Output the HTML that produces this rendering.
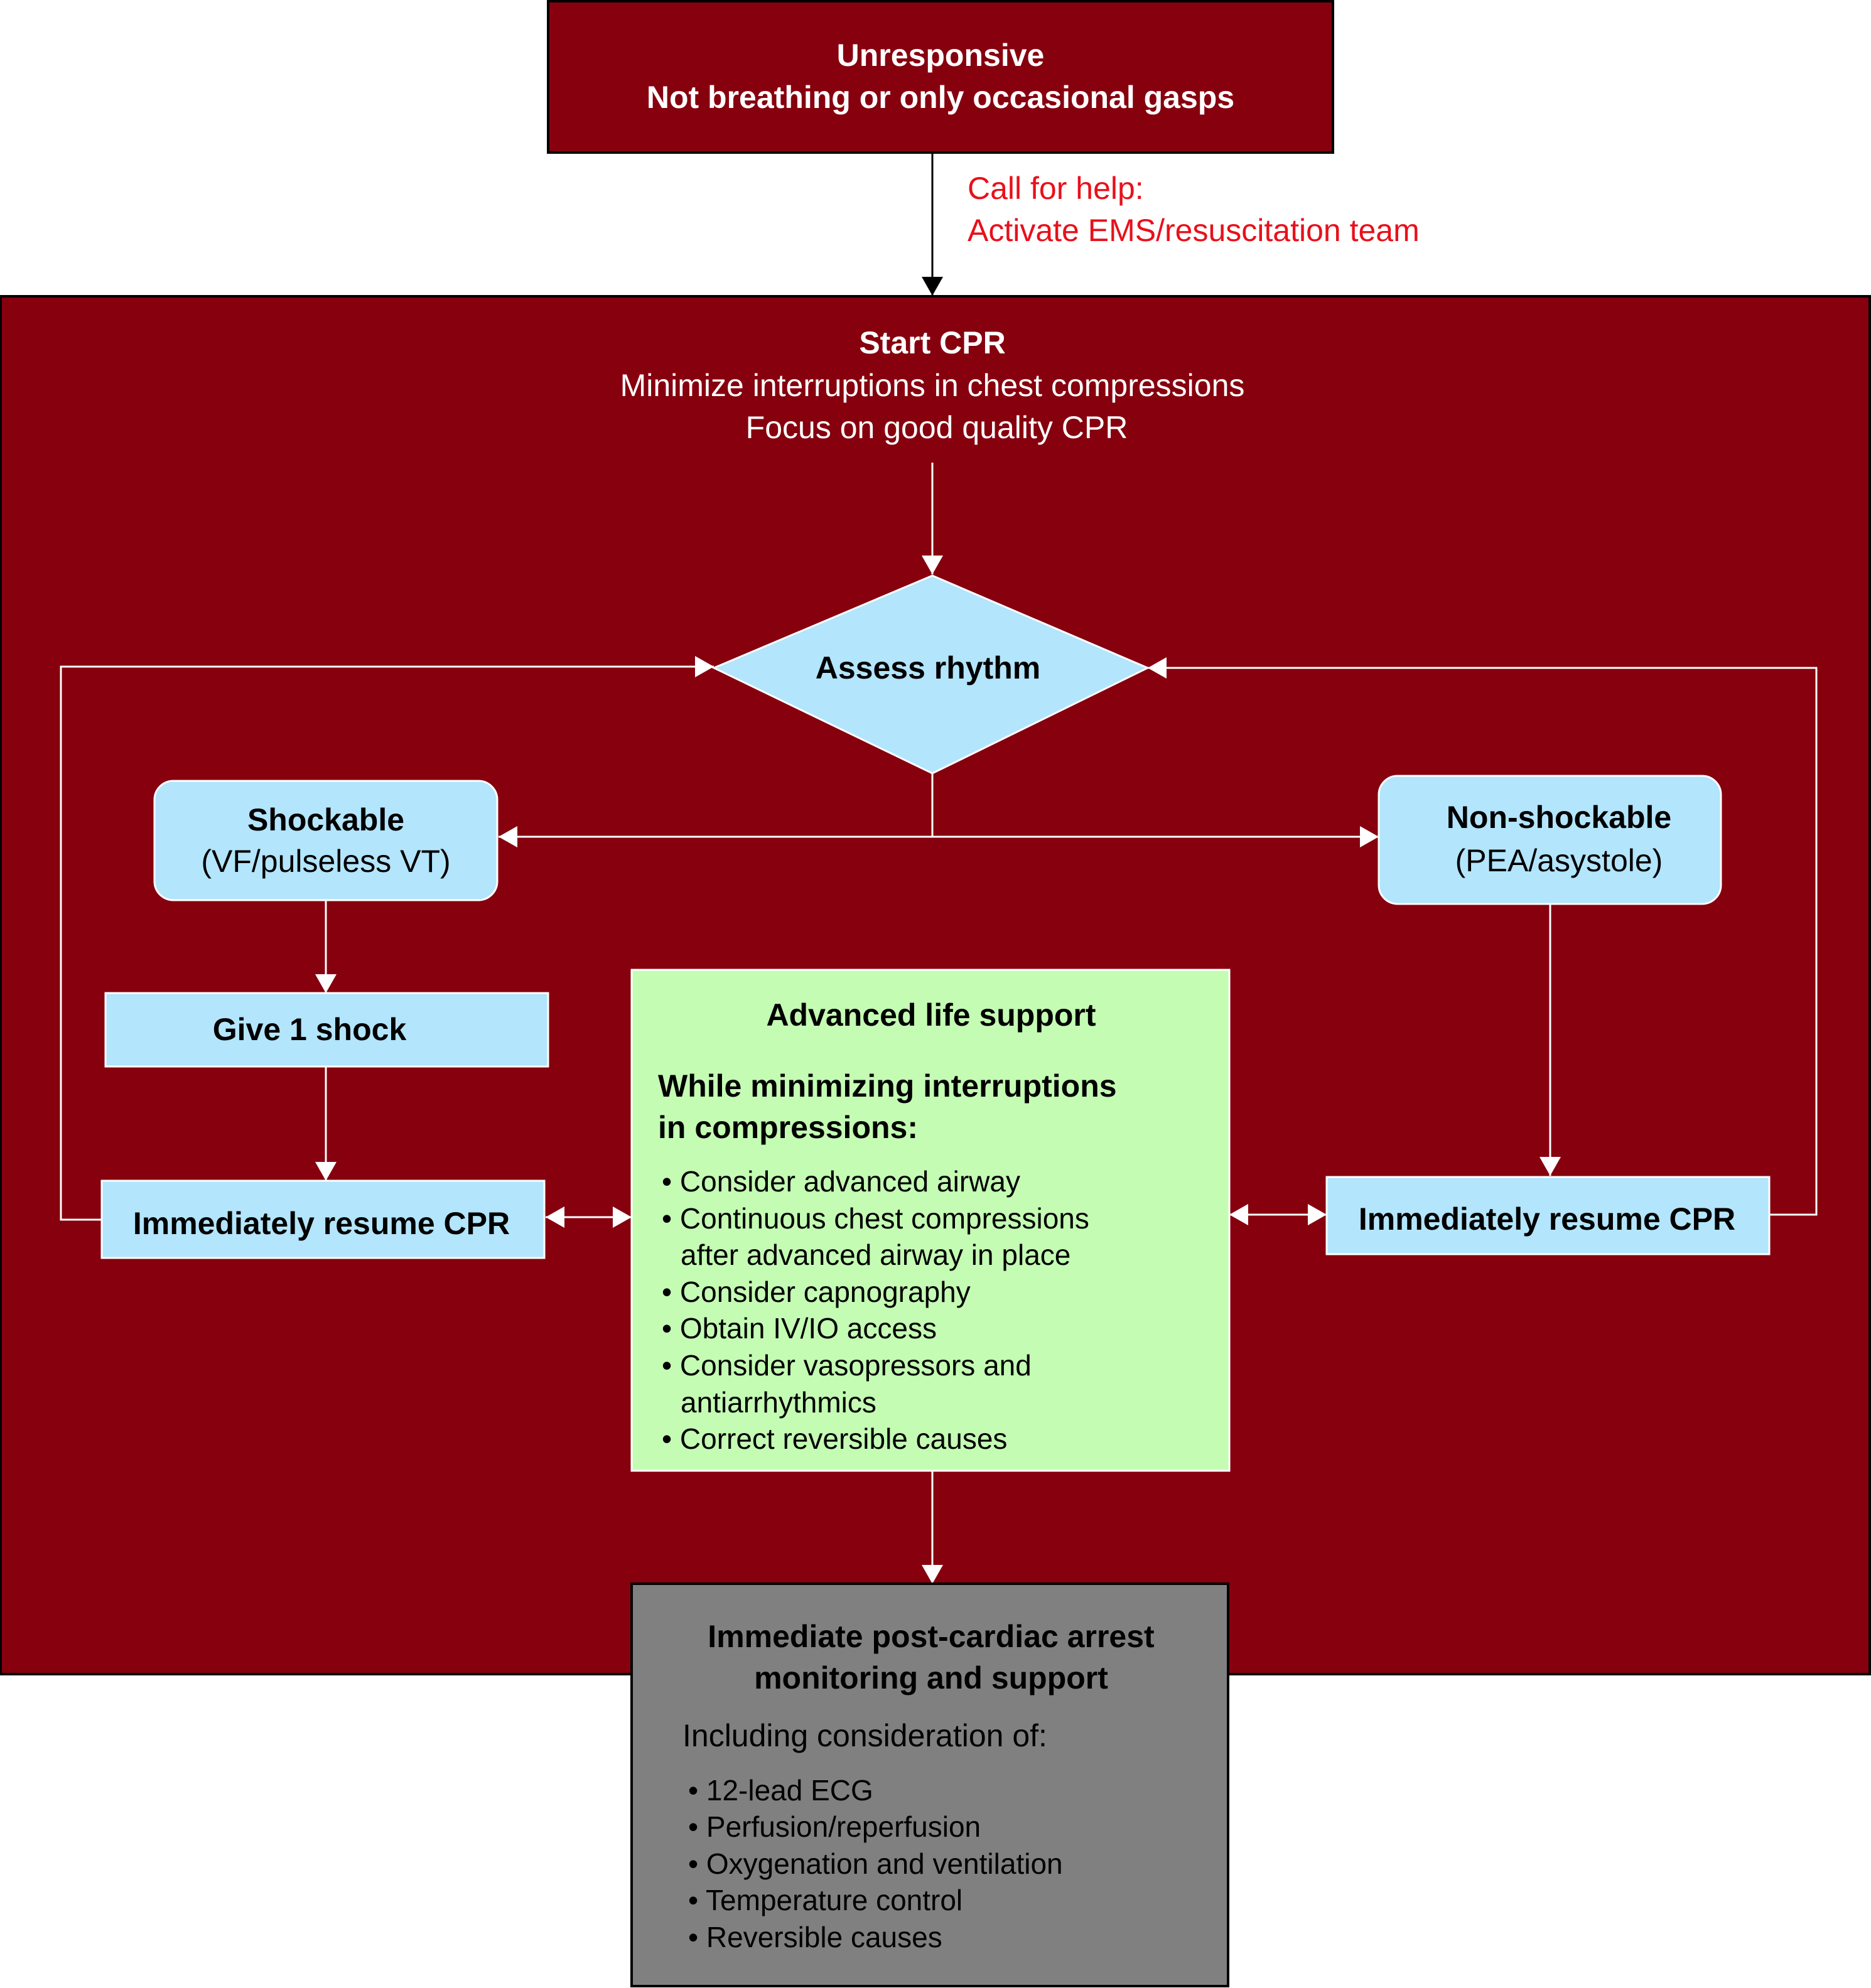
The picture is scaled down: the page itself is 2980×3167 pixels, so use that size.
<!DOCTYPE html>
<html><head><meta charset="utf-8"><style>html,body{margin:0;padding:0;background:#fff}svg{display:block}text{font-family:"Liberation Sans",Arial,sans-serif}</style></head><body>
<svg width="2980" height="3167" viewBox="0 0 2980 3167" xmlns="http://www.w3.org/2000/svg">
<defs>
<marker id="aw" markerWidth="10" markerHeight="10" refX="9" refY="5" orient="auto" markerUnits="userSpaceOnUse" viewBox="0 0 10 10"><path d="M0,0 L10,5 L0,10 z" fill="#fff"/></marker>
<marker id="awb" markerWidth="30" markerHeight="34" refX="30" refY="17" orient="auto" markerUnits="userSpaceOnUse"><path d="M0,0 L30,17 L0,34 z" fill="#fff"/></marker>
<marker id="abk" markerWidth="30" markerHeight="34" refX="30" refY="17" orient="auto" markerUnits="userSpaceOnUse"><path d="M0,0 L30,17 L0,34 z" fill="#000"/></marker>
</defs>
<!-- top box -->
<rect x="873" y="2" width="1250" height="241" fill="#86000e" stroke="#000" stroke-width="4"/>
<text x="1498" y="88" fill="#fff" font-size="50" font-weight="bold" text-anchor="middle" dominant-baseline="central">Unresponsive</text>
<text x="1498" y="155" fill="#fff" font-size="50" font-weight="bold" text-anchor="middle" dominant-baseline="central">Not breathing or only occasional gasps</text>
<line x1="1485" y1="243" x2="1485" y2="471" stroke="#000" stroke-width="3" marker-end="url(#abk)"/>
<text x="1541" y="300" fill="#e8101a" font-size="50" dominant-baseline="central">Call for help:</text>
<text x="1541" y="367" fill="#e8101a" font-size="50" dominant-baseline="central">Activate EMS/resuscitation team</text>
<!-- main red box -->
<rect x="1" y="472" width="2977" height="2195" fill="#86000e" stroke="#000" stroke-width="4"/>
<text x="1485" y="546" fill="#fff" font-size="50" font-weight="bold" text-anchor="middle" dominant-baseline="central">Start CPR</text>
<text x="1485" y="614" fill="#fff" font-size="50" text-anchor="middle" dominant-baseline="central">Minimize interruptions in chest compressions</text>
<text x="1492" y="681" fill="#fff" font-size="50" text-anchor="middle" dominant-baseline="central">Focus on good quality CPR</text>
<g stroke="#fff" stroke-width="3" fill="none">
<line x1="1485" y1="737" x2="1485" y2="915" marker-end="url(#awb)"/>
<polyline points="162,1943 97,1943 97,1062 1137,1062" marker-end="url(#awb)"/>
<polyline points="2818,1935 2893,1935 2893,1064 1828,1064" marker-end="url(#awb)"/>
<line x1="1485" y1="1232" x2="1485" y2="1333"/>
<line x1="1485" y1="1333" x2="794" y2="1333" marker-end="url(#awb)"/>
<line x1="1485" y1="1333" x2="2196" y2="1333" marker-end="url(#awb)"/>
<line x1="519" y1="1434" x2="519" y2="1582" marker-end="url(#awb)"/>
<line x1="519" y1="1699" x2="519" y2="1881" marker-end="url(#awb)"/>
<line x1="2469" y1="1440" x2="2469" y2="1873" marker-end="url(#awb)"/>
<line x1="900" y1="1939" x2="1006" y2="1939" marker-end="url(#awb)"/>
<line x1="960" y1="1939" x2="869" y2="1939" marker-end="url(#awb)"/>
<line x1="2020" y1="1935" x2="2113" y2="1935" marker-end="url(#awb)"/>
<line x1="2050" y1="1935" x2="1958" y2="1935" marker-end="url(#awb)"/>
<line x1="1485" y1="2343" x2="1485" y2="2523" marker-end="url(#awb)"/>
</g>
<!-- diamond -->
<polygon points="1485,917 1828,1064 1485,1232 1137,1064" fill="#b3e5fc" stroke="#fff" stroke-width="3"/>
<text x="1478" y="1064" font-size="50" font-weight="bold" text-anchor="middle" dominant-baseline="central">Assess rhythm</text>
<rect x="246" y="1244" width="546" height="190" rx="30" fill="#b3e5fc" stroke="#fff" stroke-width="3"/>
<text x="519" y="1306" font-size="50" font-weight="bold" text-anchor="middle" dominant-baseline="central">Shockable</text>
<text x="519" y="1372" font-size="50" text-anchor="middle" dominant-baseline="central">(VF/pulseless VT)</text>
<rect x="2196" y="1236" width="545" height="204" rx="30" fill="#b3e5fc" stroke="#fff" stroke-width="3"/>
<text x="2483" y="1302" font-size="50" font-weight="bold" text-anchor="middle" dominant-baseline="central">Non-shockable</text>
<text x="2483" y="1371" font-size="50" text-anchor="middle" dominant-baseline="central">(PEA/asystole)</text>
<rect x="168" y="1582" width="705" height="117" fill="#b3e5fc" stroke="#fff" stroke-width="3"/>
<text x="493" y="1640" font-size="50" font-weight="bold" text-anchor="middle" dominant-baseline="central">Give 1 shock</text>
<rect x="162" y="1881" width="705" height="123" fill="#b3e5fc" stroke="#fff" stroke-width="3"/>
<text x="512" y="1949" font-size="50" font-weight="bold" text-anchor="middle" dominant-baseline="central">Immediately resume CPR</text>
<rect x="2113" y="1875" width="705" height="123" fill="#b3e5fc" stroke="#fff" stroke-width="3"/>
<text x="2464" y="1942" font-size="50" font-weight="bold" text-anchor="middle" dominant-baseline="central">Immediately resume CPR</text>
<!-- ALS -->
<rect x="1006" y="1545" width="952" height="798" fill="#c4fcb4" stroke="#fff" stroke-width="3"/>
<g font-size="50" font-weight="bold" dominant-baseline="central">
<text x="1483" y="1617" text-anchor="middle">Advanced life support</text>
<text x="1048" y="1730">While minimizing interruptions</text>
<text x="1048" y="1796">in compressions:</text>
</g>
<g font-size="46" dominant-baseline="central">
<text x="1054" y="1882">• Consider advanced airway</text>
<text x="1054" y="1941">• Continuous chest compressions</text>
<text x="1084" y="1999">after advanced airway in place</text>
<text x="1054" y="2058">• Consider capnography</text>
<text x="1054" y="2116">• Obtain IV/IO access</text>
<text x="1054" y="2175">• Consider vasopressors and</text>
<text x="1084" y="2234">antiarrhythmics</text>
<text x="1054" y="2292">• Correct reversible causes</text>
</g>
<!-- gray -->
<rect x="1006" y="2523" width="950" height="641" fill="#808080" stroke="#000" stroke-width="4"/>
<g font-size="50" font-weight="bold" text-anchor="middle" dominant-baseline="central">
<text x="1483" y="2607">Immediate post-cardiac arrest</text>
<text x="1483" y="2673">monitoring and support</text>
</g>
<text x="1087" y="2765" font-size="50" dominant-baseline="central">Including consideration of:</text>
<g font-size="46" dominant-baseline="central">
<text x="1096" y="2852">• 12-lead ECG</text>
<text x="1096" y="2910">• Perfusion/reperfusion</text>
<text x="1096" y="2969">• Oxygenation and ventilation</text>
<text x="1096" y="3027">• Temperature control</text>
<text x="1096" y="3086">• Reversible causes</text>
</g>
</svg>
</body></html>
